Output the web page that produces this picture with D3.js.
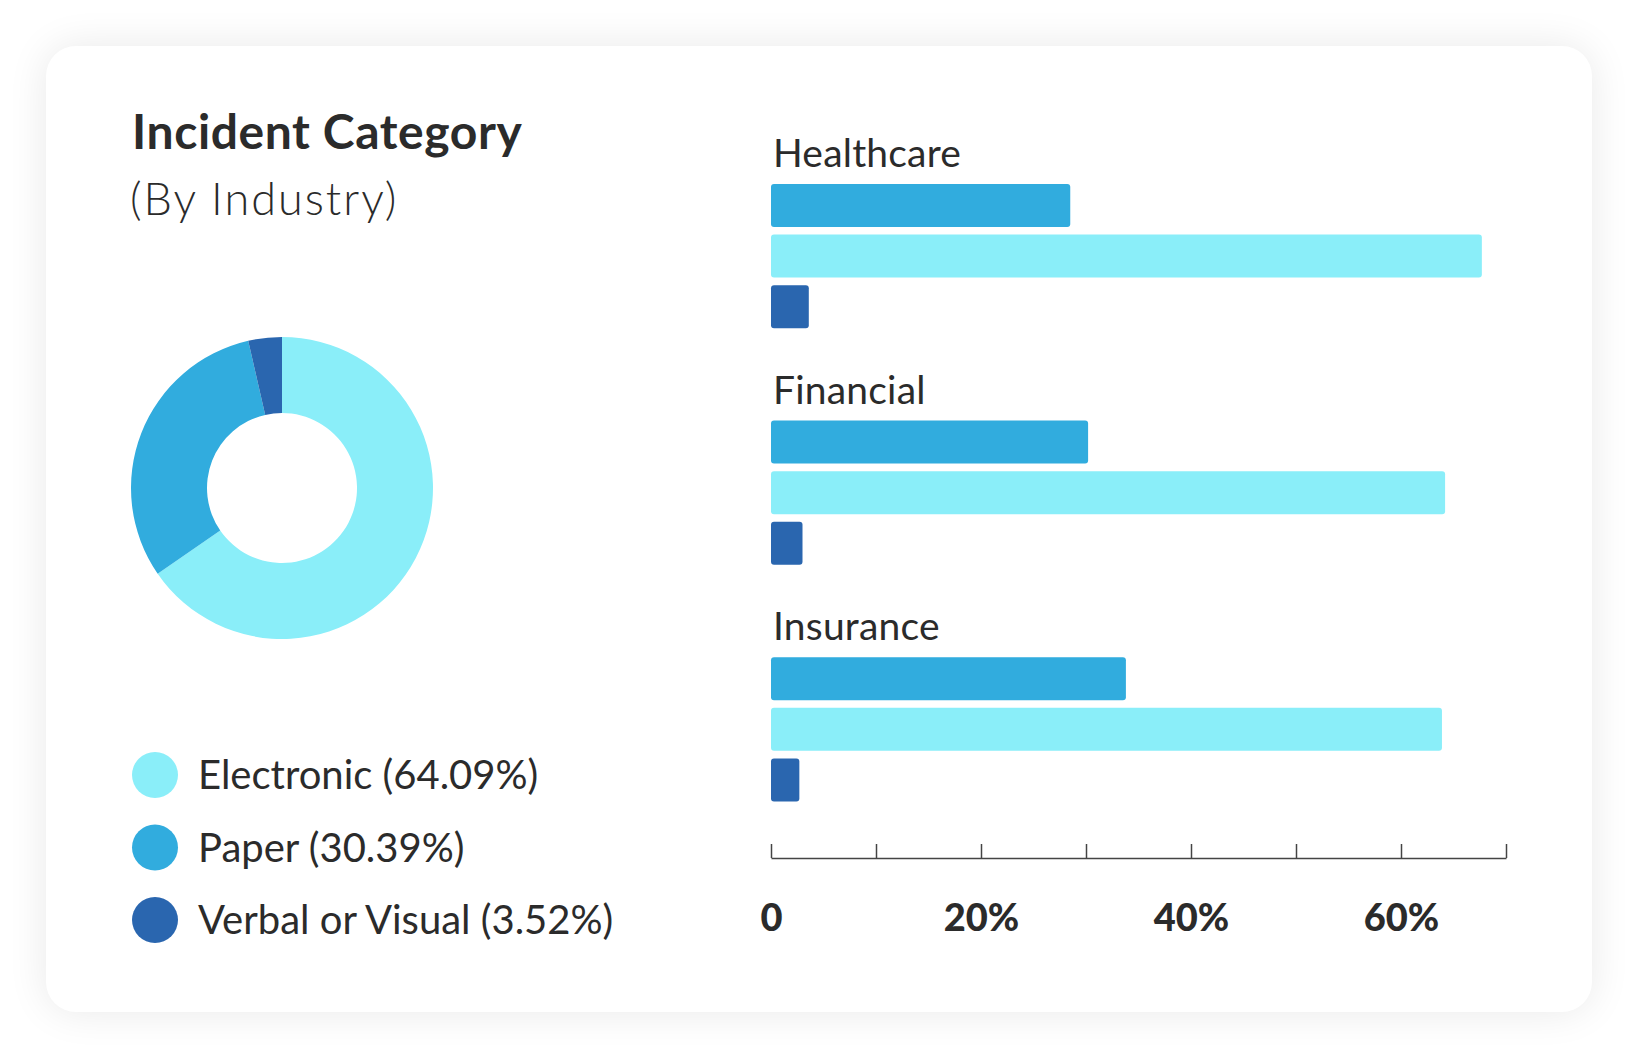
<!DOCTYPE html>
<html>
<head>
<meta charset="utf-8">
<script src="https://cdn.jsdelivr.net/npm/d3@7/dist/d3.min.js"></script>
<style>
  html, body { margin: 0; padding: 0; background: #ffffff; }
  body { width: 1638px; height: 1058px; overflow: hidden; position: relative; font-family: Lato, "Open Sans", sans-serif; }
  #card { position: absolute; left: 46px; top: 46px; width: 1546px; height: 966px; background: #fff; border-radius: 30px;
          box-shadow: 0 0 40px rgba(0,0,0,0.09); }
  svg { position: absolute; left: 0; top: 0; }
</style>
</head>
<body>
<div id="card"></div>
<svg id="chart" width="1638" height="1058"></svg>
<script>
// ---- data ----
const categories = ["Electronic", "Paper", "Verbal or Visual"];
const overallShare = [64.09, 30.39, 3.52];
const categoryColors = ["#8AEEF9", "#31ACDE", "#2A66AF"];

const industries = ["Healthcare", "Financial", "Insurance"];
const seriesOrder = ["Paper", "Electronic", "Verbal or Visual"];
const paperValues = [28.5, 30.2, 33.8];
const electronicValues = [67.7, 64.2, 63.9];
const verbalValues = [3.6, 3.0, 2.7];
const xTickValues = [0, 10, 20, 30, 40, 50, 60, 70];
const xTickLabels = ["0", "", "20%", "", "40%", "", "60%", ""];

const titleText = "Incident Category";
const subtitleText = "(By Industry)";

// ---- setup ----
const svg = d3.select("#chart");
const textColor = "#2b2b2b";

svg.append("text").attr("x", 132).attr("y", 149)
  .attr("font-family", "Lato").attr("font-weight", 700).attr("font-size", 48)
  .attr("letter-spacing", 0.6)
  .attr("fill", textColor).text(titleText);
svg.append("text").attr("x", 130).attr("y", 215)
  .attr("font-family", "Lato").attr("font-weight", 300).attr("font-size", 45)
  .attr("letter-spacing", 2)
  .attr("fill", textColor).text(subtitleText);

// ---- donut ----
const colorScale = d3.scaleOrdinal().domain(categories).range(categoryColors);
const pieData = categories.map((c, i) => ({ name: c, value: overallShare[i] }));
const pie = d3.pie().sort(null).value(d => d.value);
const arc = d3.arc().innerRadius(75).outerRadius(151);
const donut = svg.append("g").attr("transform", "translate(282,488)");
donut.selectAll("path").data(pie(pieData)).join("path")
  .attr("d", arc).attr("fill", d => colorScale(d.data.name));

// ---- legend ----
const legendY = d3.scalePoint().domain(categories).range([775, 920]);
const legend = svg.append("g");
const li = legend.selectAll("g").data(pieData).join("g")
  .attr("transform", d => `translate(0,${legendY(d.name)})`);
li.append("circle").attr("cx", 155).attr("cy", 0).attr("r", 23).attr("fill", d => colorScale(d.name));
li.append("text").attr("x", 198).attr("y", 0).attr("dy", "0.35em")
  .attr("font-family", "Lato").attr("font-size", 40).attr("fill", textColor)
  .text(d => `${d.name} (${d.value.toFixed(2)}%)`);

// ---- bars ----
const x = d3.scaleLinear().domain([0, 70]).range([771, 1506]);
const y0 = d3.scaleBand().domain(industries).range([134, 134 + 3 * 236.6]);
const y1 = d3.scaleBand().domain(seriesOrder).range([0, 144.2]).paddingInner(0.15).paddingOuter(0);
const seriesValues = { "Paper": paperValues, "Electronic": electronicValues, "Verbal or Visual": verbalValues };

const groups = svg.append("g").selectAll("g").data(industries).join("g")
  .attr("transform", d => `translate(0,${y0(d)})`);
groups.append("text").attr("x", 773).attr("y", 33)
  .attr("font-family", "Lato").attr("font-size", 39).attr("letter-spacing", 0.2).attr("fill", textColor)
  .text(d => d);
groups.each(function(ind, i) {
  const g = d3.select(this).append("g").attr("transform", "translate(0,50)");
  g.selectAll("rect").data(seriesOrder.map(s => ({ s, v: seriesValues[s][i] }))).join("rect")
    .attr("x", x(0)).attr("y", d => y1(d.s))
    .attr("width", d => x(d.v) - x(0)).attr("height", y1.bandwidth())
    .attr("rx", 3).attr("fill", d => colorScale(d.s));
});

// ---- axis ----
const axis = d3.axisBottom(x).tickValues(xTickValues)
  .tickFormat((d, i) => xTickLabels[i])
  .tickSizeInner(-14).tickSizeOuter(0).tickPadding(46);
const ax = svg.append("g").attr("transform", "translate(0,858)").call(axis);
ax.select(".domain").attr("stroke", "#444").attr("stroke-width", 1.5);
ax.selectAll(".tick line").attr("stroke", "#444").attr("stroke-width", 1.5);
ax.selectAll(".tick text").attr("font-family", "Lato").attr("font-weight", 900)
  .attr("font-size", 38).attr("fill", textColor);
</script>
</body>
</html>
